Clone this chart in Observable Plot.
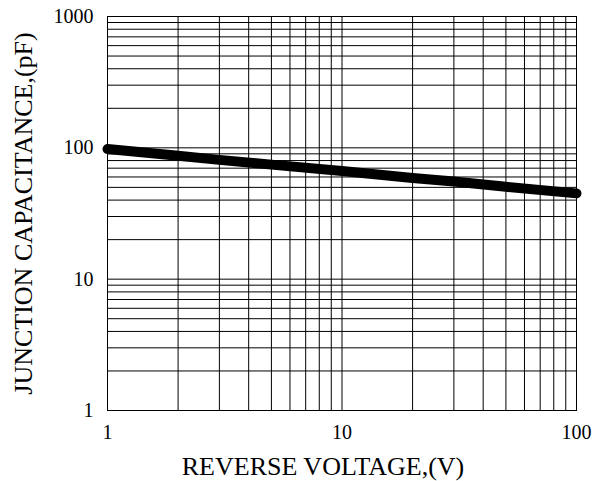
<!DOCTYPE html>
<html>
<head>
<meta charset="utf-8">
<script src="https://cdn.jsdelivr.net/npm/d3@7"></script>
<script src="https://cdn.jsdelivr.net/npm/@observablehq/plot@0.6"></script>
<style>
  html, body { margin: 0; padding: 0; background: #fff; }
  #chart svg { display: block; }
</style>
</head>
<body>
<div id="chart"></div>
<script>
// Data
const voltage = [1, 2, 3, 5, 10, 20, 30, 50, 100];
const capacitance = [98, 87, 81, 74.5, 66.5, 59, 55.5, 50.5, 45];

// Axis ticks and grid
const xTicks = [1, 10, 100];
const yTicks = [1, 10, 100, 1000];
const xGrid = [1, 2, 3, 4, 5, 6, 7, 8, 9, 10, 20, 30, 40, 50, 60, 70, 80, 90, 100];
const yGrid = [1, 2, 3, 4, 5, 6, 7, 8, 9, 10, 20, 30, 40, 50, 60, 70, 80, 90, 100, 200, 300, 400, 500, 600, 700, 800, 900, 1000];

const xLabel = "REVERSE VOLTAGE,(V)";
const yLabel = "JUNCTION CAPACITANCE,(pF)";

const data = voltage.map((v, i) => ({v, c: capacitance[i]}));

const chart = Plot.plot({
  width: 592,
  height: 481,
  marginLeft: 107,
  marginRight: 16,
  marginTop: 16,
  marginBottom: 71,
  style: {fontFamily: "'Liberation Serif', 'Times New Roman', serif", fontSize: "20px", color: "#000", background: "#fff", overflow: "visible"},
  x: {type: "log", domain: [1, 100]},
  y: {type: "log", domain: [1, 1000]},
  marks: [
    Plot.ruleX(xGrid, {stroke: "#000", strokeWidth: 1}),
    Plot.ruleY(yGrid, {stroke: "#000", strokeWidth: 1}),
    Plot.frame({stroke: "#000", strokeWidth: 1}),
    Plot.line(data, {x: "v", y: "c", stroke: "#000", strokeWidth: 10, strokeLinecap: "round", strokeLinejoin: "round"}),
    Plot.axisX(xTicks, {tickSize: 0, tickPadding: 14, fontSize: 20, tickFormat: d => String(d), label: null}),
    Plot.axisY(yTicks, {tickSize: 0, tickPadding: 14, fontSize: 20, tickFormat: d => String(d), label: null}),
    Plot.text([xLabel], {frameAnchor: "bottom", textAnchor: "middle", lineAnchor: "middle", dx: -19, dy: 56, fontSize: 26, text: d => d}),
    Plot.text([yLabel], {frameAnchor: "left", textAnchor: "middle", lineAnchor: "middle", dx: -84, rotate: -90, fontSize: 26, text: d => d})
  ]
});
document.getElementById("chart").append(chart);
</script>
</body>
</html>
